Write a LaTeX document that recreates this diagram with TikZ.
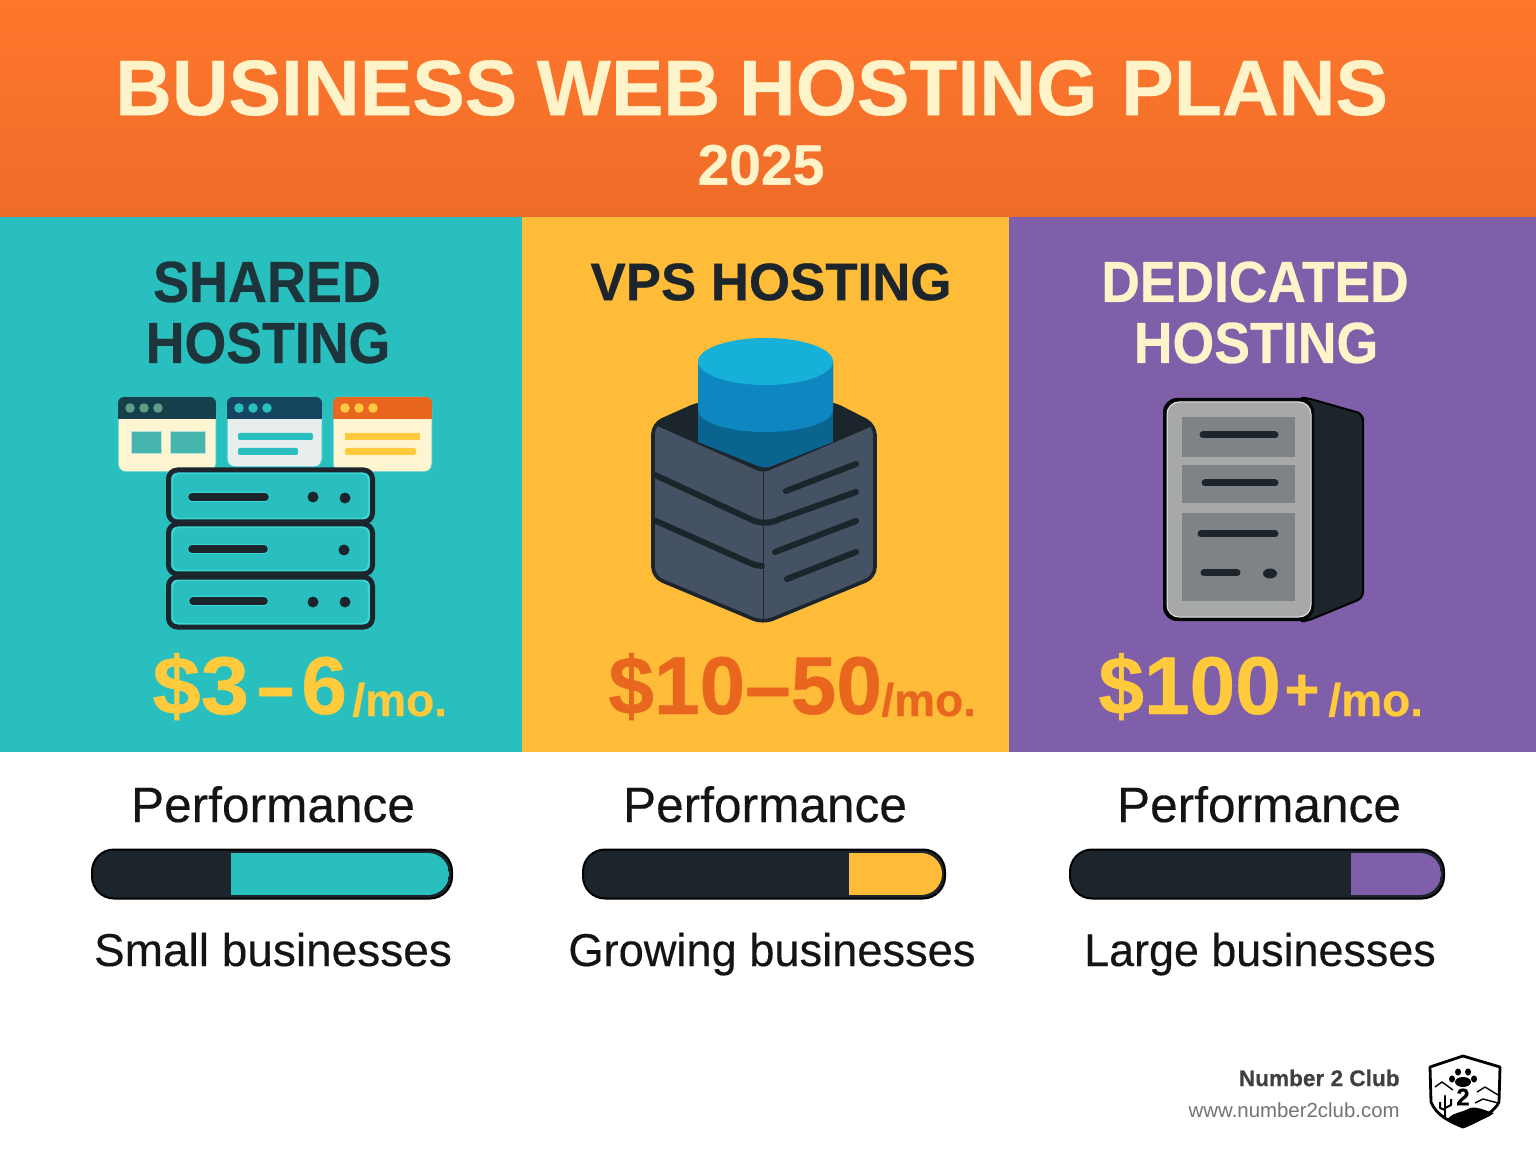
\documentclass[tikz,border=0pt]{standalone}
\usepackage{fontspec}
\setmainfont{Liberation Sans}[BoldFeatures={FakeBold=0.5}]
\newfontfamily\medfont{Liberation Sans}[FakeBold=0.25]
\usetikzlibrary{calc}
\definecolor{teal0}{HTML}{2ABFBF}
\definecolor{yellow0}{HTML}{FFBC38}
\definecolor{purple0}{HTML}{7F5FA9}
\definecolor{dark0}{HTML}{1C252B}
\definecolor{cream0}{HTML}{FFF3C9}
\definecolor{gold0}{HTML}{FFCB3D}
\definecolor{orange0}{HTML}{E9661F}
\definecolor{slate0}{HTML}{445264}
\definecolor{glow0}{HTML}{3AD6D6}
\definecolor{headtop}{HTML}{FF772C}
\definecolor{headbot}{HTML}{EE6C29}
\definecolor{cyltop}{HTML}{16B0D8}
\definecolor{cylmid}{HTML}{0E86C0}
\definecolor{cyllow}{HTML}{0A6490}
\definecolor{winA}{HTML}{153F4A}
\definecolor{winAd}{HTML}{5F9C86}
\definecolor{winB}{HTML}{15445F}
\definecolor{winBb}{HTML}{E8EEEE}
\definecolor{tileA}{HTML}{45B5AE}
\definecolor{frontg}{HTML}{A7A9A8}
\definecolor{bayg}{HTML}{7F8386}
\tikzset{
  x=0.5pt,y=-0.5pt,
  heading/.style={font=\fontsize{29}{29}\selectfont\bfseries,inner sep=0pt,anchor=center},
  perf/.style={font=\fontsize{24.8}{25}\selectfont\medfont,text=black!92,inner sep=0pt,anchor=base},
  aud/.style={font=\fontsize{23}{24}\selectfont\medfont,text=black!92,inner sep=0pt,anchor=base},
  price/.style={font=\fontsize{41}{41}\selectfont\bfseries,inner sep=0pt,anchor=base west},
  permo/.style={font=\fontsize{23}{24}\selectfont\bfseries,inner sep=0pt,anchor=base west},
  slotglow/.style={line width=4.6pt,line cap=round,draw=glow0},
  slot/.style={line width=3.8pt,line cap=round,draw=dark0},
  slotthin/.style={line width=3.5pt,line cap=round,draw=dark0},
  cubeline/.style={line width=3pt,line cap=round,draw=dark0},
  serverglow/.style={draw=glow0,line width=3.1pt,rounded corners=4.5pt},
  serverbox/.style={draw=dark0,line width=2.5pt,rounded corners=4.5pt},
  barbase/.style={fill=dark0,draw=black,line width=1pt},
}
\newcommand{\browserwin}[7]{% x1,y1,x2,y2,body,head,dots
  \fill[#5,rounded corners=4pt,draw=glow0!60!teal0,line width=.5pt] (#1,#2) rectangle (#3,#4);
  \fill[#6,rounded corners=3pt] (#1,#2) rectangle (#3,419);
  \fill[#6] (#1,412) rectangle (#3,419);
  \foreach \dx in {12,26,40}{\fill[#7] ($(#1,408)+(\dx,0)$) circle[radius=4.8];}
}
\begin{document}
\begin{tikzpicture}
\useasboundingbox (0,0) rectangle (1536,1154);
\fill[white] (0,0) rectangle (1536,1154);
% header
\shade[top color=headtop,bottom color=headbot] (0,0) rectangle (1536,217);
\fill[teal0] (0,217) rectangle (522,752);
\fill[yellow0] (522,217) rectangle (1009,752);
\fill[purple0] (1009,217) rectangle (1536,752);
% title
\node[text=cream0,inner sep=0pt,font=\bfseries] (title) at (751.5,88) {\resizebox{636.5pt}{!}{\fontsize{40}{40}\selectfont BUSINESS\hspace{-1.2pt} WEB\hspace{-1.6pt} HOSTING\hspace{1pt} PLANS}};
\node[text=cream0,inner sep=0pt,font=\fontsize{28.5}{28}\selectfont\bfseries] (year) at (761,165) {2025};
% headings
\node[heading,text=dark0!90!teal0] (h1a) at (267,282) {\scalebox{0.93}[1]{SHARED}};
\node[heading,text=dark0!90!teal0] (h1b) at (268,343) {\scalebox{0.925}[1]{HOSTING}};
\node[heading,text=dark0] (h2) at (771,282) {\resizebox{180.5pt}{!}{VPS HOSTING}};
\node[heading,text=cream0] (h3a) at (1255,282) {\scalebox{0.92}[1]{DEDICATED}};
\node[heading,text=cream0] (h3b) at (1256,343) {\scalebox{0.925}[1]{HOSTING}};
% browser windows
\browserwin{118}{397}{216}{472}{cream0!85!white}{winA}{winAd}
\draw[white!60!tileA,line width=.5pt,fill=tileA] (131,432) rectangle (161,454);
\draw[white!60!tileA,line width=.5pt,fill=tileA] (170,432) rectangle (205,454);
\browserwin{227}{397}{322}{467}{winBb}{winB}{teal0}
\fill[teal0,rounded corners=1pt] (238,433) rectangle (313,440);
\fill[teal0,rounded corners=1pt] (238,448) rectangle (298,455);
\browserwin{333}{397}{432}{472}{cream0!85!white}{orange0}{gold0}
\fill[gold0] (345,433) rectangle (420,440);
\fill[gold0,rounded corners=1pt] (345,448) rectangle (416,455);
% server stack
\fill[teal0,rounded corners=4.5pt] (168,469) rectangle (373,628);
\foreach \ya/\yb in {469/523,523/575,576/628}{
  \draw[serverglow] (170,\ya+2) rectangle (371,\yb-2);
  \draw[serverbox] (168.5,\ya+1) rectangle (372.5,\yb-1);
}
\draw[slotglow] (192,497) -- (265,497);
\draw[slot] (192,497) -- (265,497);
\fill[dark0] (313,497) circle[radius=5.5];
\fill[dark0] (345,498) circle[radius=5.5];
\draw[slotglow] (192,549) -- (264,549);
\draw[slot] (192,549) -- (264,549);
\fill[dark0] (344,550) circle[radius=5.5];
\draw[slotglow] (193,601) -- (264,601);
\draw[slot] (193,601) -- (264,601);
\fill[dark0] (313,602) circle[radius=5.5];
\fill[dark0] (345,602) circle[radius=5.5];
% VPS cube
\fill[slate0,draw=dark0,line width=1.8pt,rounded corners=5pt] (653,424) -- (700,403) -- (832,403) -- (875,425) -- (875,577) -- (763,623) -- (653,577) -- cycle;
\fill[dark0,rounded corners=3pt] (653,424) -- (700,403) -- (832,403) -- (875,425) -- (763,473) -- cycle;
\draw[black!85,line width=.5pt] (763,472) -- (763,622);
% Cylinder
\fill[cyllow] (698,361) -- (698,442) -- (758,466) .. controls (763,468) and (767,468) .. (772,466) -- (833,442) -- (833,361) -- cycle;
\fill[cylmid] (698,361) -- (698,410) arc[start angle=180,end angle=360,x radius=67.5,y radius=-22] -- (833,361) -- cycle;
\fill[cyltop] (765.5,361.5) ellipse[x radius=67.5,y radius=23.5];
% cube lines
\draw[cubeline] (655,475) -- (750,519) .. controls (760,524) and (770,524) .. (780,519) -- (856,492);
\draw[cubeline] (656,521) -- (750,563) .. controls (755,565) and (758,566) .. (762,566);
\draw[cubeline] (786,491) -- (856,464);
\draw[cubeline] (775,552) -- (856,521);
\draw[cubeline] (787,579) -- (856,552);
% Dedicated server
\fill[dark0,draw=black,line width=1pt,rounded corners=3pt] (1300,398) -- (1307,398) -- (1363,414) -- (1363,598) -- (1307,621) -- (1300,621) -- cycle;
\fill[black!90!dark0,rounded corners=7pt] (1163,398) rectangle (1314,621);
\fill[frontg,rounded corners=6pt,draw=white!80!gray,line width=.5pt] (1167,402) rectangle (1311,617);
\fill[bayg] (1182,417) rectangle (1295,457);
\fill[bayg] (1182,465) rectangle (1295,503);
\fill[bayg] (1182,513) rectangle (1295,601);
\draw[slotthin] (1203,435) -- (1275,435);
\draw[slotthin] (1205,483) -- (1275,483);
\draw[slotthin] (1201,534) -- (1275,534);
\draw[slotthin] (1204,573) -- (1237,573);
\fill[dark0] (1270,573.5) ellipse[x radius=7,y radius=5];
% prices
\node[price,text=gold0] (p1) at (152,714) {\scalebox{1.06}[1]{\$3}};
\node[price,text=gold0] (p1b) at (257,714) {\scalebox{0.8}[1]{–}};
\node[price,text=gold0] (p1c) at (301,714) {6};
\node[permo,text=gold0] (m1) at (352,716) {/mo.};
\node[price,text=orange0] (p2) at (608,714) {\$10–50};
\node[permo,text=orange0] (m2) at (881,716) {/mo.};
\node[price,text=gold0] (p3) at (1098,714) {\$100};
\node[permo,text=gold0,font=\fontsize{30}{30}\selectfont\bfseries] (p3b) at (1284,710) {+};
\node[permo,text=gold0] (m3) at (1328,716) {/mo.};
% performance
\node[perf] (pf1) at (273,822) {Performance};
\node[perf] (pf2) at (765,822) {Performance};
\node[perf] (pf3) at (1259,822) {Performance};
% bars
\draw[barbase,rounded corners=11pt] (92,849.5) rectangle (452,898.5);
\begin{scope}
\clip[rounded corners=10.5pt] (92,853) rectangle (449,895);
\fill[teal0] (231,853) rectangle (449,895);
\end{scope}
\draw[barbase,rounded corners=11pt] (583,849.5) rectangle (945,898.5);
\begin{scope}
\clip[rounded corners=10.5pt] (583,853) rectangle (942,895);
\fill[yellow0] (849,853) rectangle (942,895);
\end{scope}
\draw[barbase,rounded corners=11pt] (1070,849.5) rectangle (1444,898.5);
\begin{scope}
\clip[rounded corners=10.5pt] (1070,853) rectangle (1441,895);
\fill[purple0] (1351,853) rectangle (1441,895);
\end{scope}
% audiences
\node[aud] (a1) at (273,966) {Small businesses};
\node[aud] (a2) at (772,966) {\scalebox{0.983}[1]{Growing businesses}};
\node[aud] (a3) at (1260,966) {\scalebox{0.975}[1]{Large businesses}};
% footer
\node[anchor=east,inner sep=0pt,text=black!75,font=\fontsize{11.3}{12}\selectfont\bfseries] (club) at (1400,1078) {Number 2 Club};
\node[anchor=east,inner sep=0pt,text=black!55,font=\fontsize{10.2}{11}\selectfont] (url) at (1400,1110) {www.number2club.com};
% logo
\draw[black,line width=1.4pt,line join=round,fill=white] (1463,1056) -- (1430,1067) -- (1431,1102) .. controls (1436,1115) and (1450,1122) .. (1463,1127) .. controls (1476,1122) and (1495,1112) .. (1499,1102) -- (1500,1067) -- cycle;
\fill[black] (1447,1120) .. controls (1452,1112) and (1462,1113) .. (1470,1108) .. controls (1478,1106) and (1488,1112) .. (1494,1113) .. controls (1488,1118) and (1476,1122) .. (1463,1127) .. controls (1456,1125) and (1451,1123) .. (1447,1120) -- cycle;
\foreach \px/\py in {1458/1072,1468/1072,1452/1079,1474/1079}{\fill[black] (\px,\py) ellipse[x radius=3,y radius=3.6];}
\fill[black] (1463,1082) ellipse[x radius=8,y radius=5];
\node[inner sep=0pt,text=black,font=\fontsize{12}{12}\selectfont\bfseries] (two) at (1463,1097) {2};
\draw[black,line width=.7pt,line join=round] (1435,1087) -- (1442,1082) -- (1453,1090);
\draw[black,line width=.7pt,line join=round] (1477,1092) -- (1485,1087) -- (1498,1095);
\draw[black,line width=.7pt,line join=round] (1475,1103) -- (1483,1099) -- (1498,1103);
\draw[black,line width=1.4pt,line cap=round] (1445,1096) -- (1445,1118);
\draw[black,line width=1pt,line join=round] (1440,1102) -- (1440,1108) -- (1445,1110);
\draw[black,line width=1pt,line join=round] (1451,1099) -- (1451,1105) -- (1445,1108);
\end{tikzpicture}
\end{document}
